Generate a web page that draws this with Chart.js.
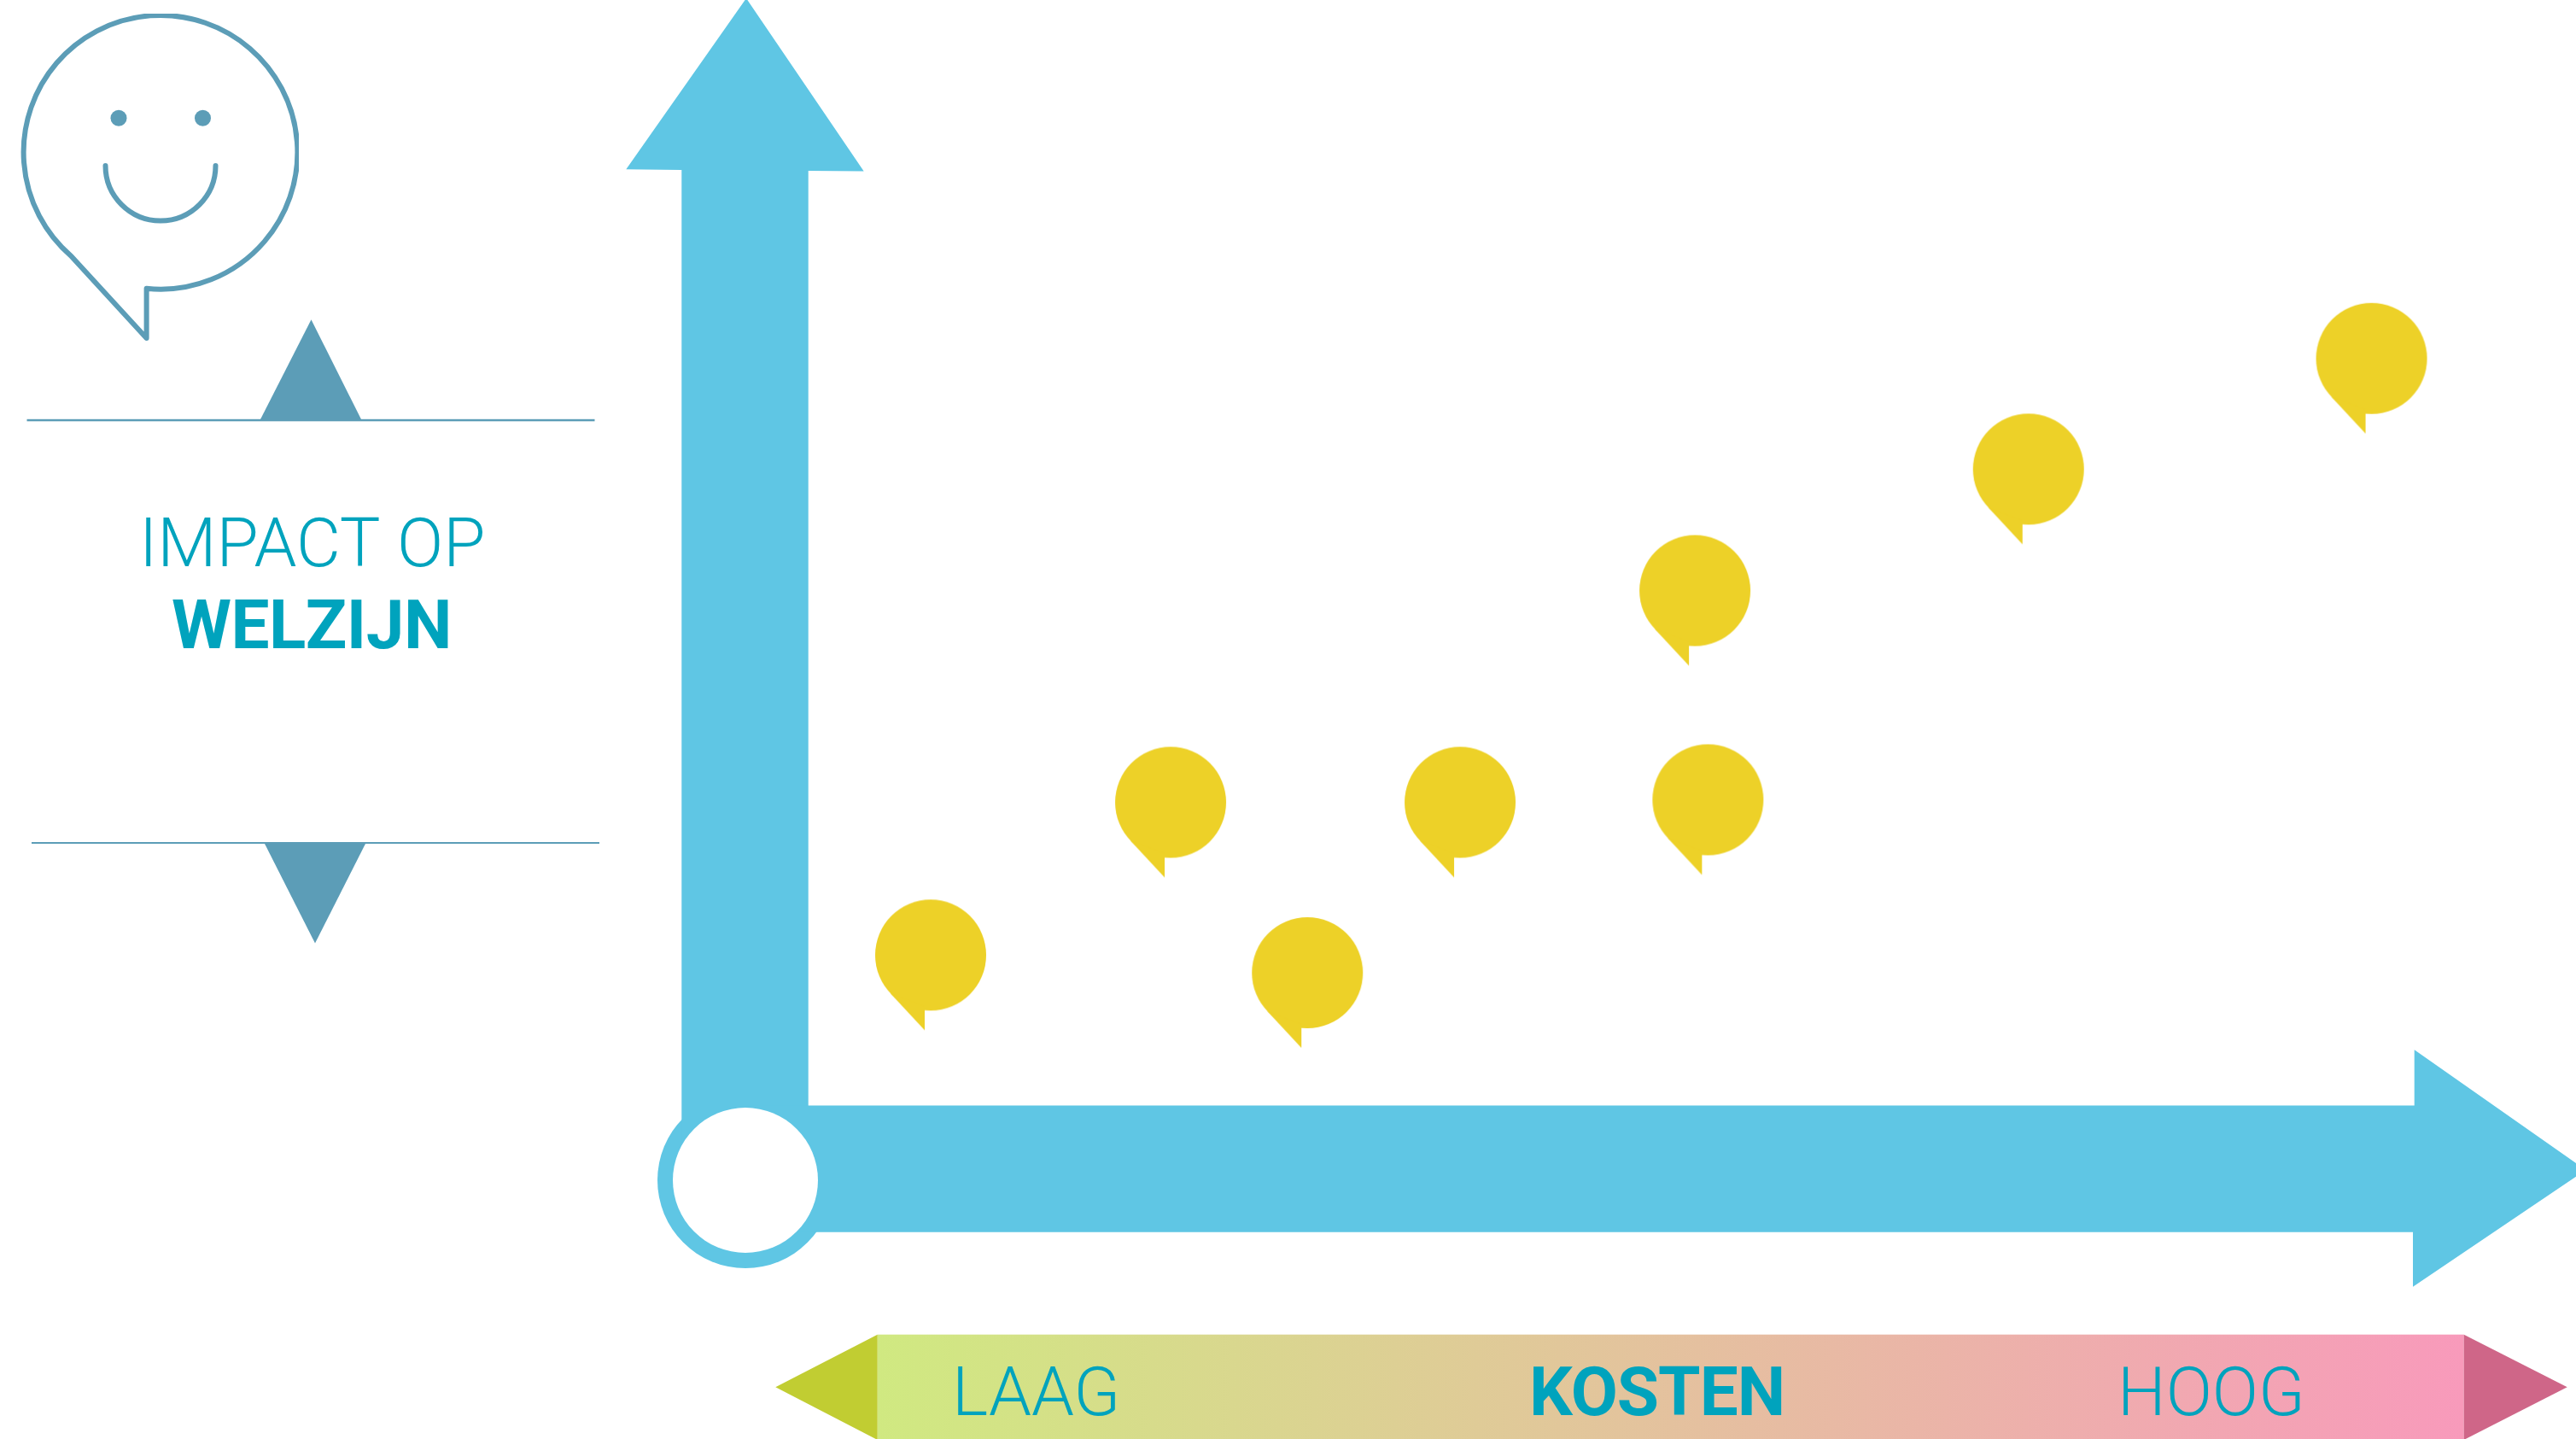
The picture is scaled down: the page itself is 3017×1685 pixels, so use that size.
<!DOCTYPE html>
<html>
<head>
<meta charset="utf-8">
<title>Impact op welzijn en kosten</title>
<script src="https://cdn.jsdelivr.net/npm/chart.js@4/dist/chart.umd.min.js"></script>
<style>
  html, body { margin: 0; padding: 0; background: #fff; overflow: hidden; }
  canvas { display: block; }
</style>
</head>
<body>
<canvas id="chart" width="3017" height="1685"></canvas>
<script>
// one pin per measure (both axes as 0-100 from the origin circle)
const kosten  = [10.12, 23.23, 30.70, 39.04, 52.58, 51.87, 70.09, 88.83];
const welzijn = [19.08, 32.02, 17.58, 32.02, 32.24, 49.96, 60.25, 69.63];

const yLabelTop = 'IMPACT OP';
const yLabelMain = 'WELZIJN';
const xLabelLow = 'LAAG';
const xLabelMain = 'KOSTEN';
const xLabelHigh = 'HOOG';

const BLUE = '#5fc6e4';
const YELLOW = '#edd128';
const STEEL = '#5c9db7';
const TEAL = '#00a3bd';

// speech bubble pin, centre of the sprite = centre of the circle
function makePin() {
  const c = document.createElement('canvas');
  c.width = 200;
  c.height = 200;
  const g = c.getContext('2d');
  g.translate(100, 100);
  g.fillStyle = YELLOW;
  g.beginPath();
  g.arc(0, 0, 65, 0, Math.PI * 2);
  g.fill();
  g.beginPath();
  g.moveTo(-47, 45);
  g.lineTo(-7, 88);
  g.lineTo(-7, 60);
  g.closePath();
  g.fill();
  return c;
}

function poly(ctx, pts, fill) {
  ctx.fillStyle = fill;
  ctx.beginPath();
  pts.forEach((p, i) => i ? ctx.lineTo(p[0], p[1]) : ctx.moveTo(p[0], p[1]));
  ctx.closePath();
  ctx.fill();
}

function label(ctx, text, x, y, weight, spacing) {
  ctx.font = weight + ' 80px Roboto';
  ctx.letterSpacing = (spacing || 0) + 'px';
  ctx.fillStyle = TEAL;
  ctx.textAlign = 'left';
  ctx.textBaseline = 'alphabetic';
  ctx.fillText(text, x, y);
  ctx.letterSpacing = '0px';
}

function drawAxes(ctx, chart) {
  const ox = chart.scales.x.getPixelForValue(0);
  const oy = chart.scales.y.getPixelForValue(0);

  ctx.fillStyle = BLUE;
  ctx.beginPath();
  ctx.arc(ox, oy, 103, 0, Math.PI * 2);
  ctx.fill();

  // vertical arrow
  poly(ctx, [[798.3, oy], [798.3, 199], [733.3, 198.3], [874, -2], [1011.7, 200.5], [946.7, 200], [946.7, oy]], BLUE);
  // horizontal arrow, the tip runs off the page
  poly(ctx, [[ox, 1294.5], [2827.7, 1294.5], [2827.7, 1229.3], [3017, 1362], [3017, 1377.7], [2826, 1506.7], [2826, 1442.7], [ox, 1442.7]], BLUE);

  ctx.fillStyle = '#fff';
  ctx.beginPath();
  ctx.arc(ox, oy, 85, 0, Math.PI * 2);
  ctx.fill();
}

function drawCostBand(ctx) {
  const grad = ctx.createLinearGradient(1027.7, 0, 2885.7, 0);
  grad.addColorStop(0, '#d0e981');
  grad.addColorStop(1, '#f89abb');
  ctx.fillStyle = grad;
  ctx.fillRect(1027.7, 1562.7, 1858, 123);
  poly(ctx, [[1027.7, 1562.7], [908.3, 1624.3], [1027.7, 1686]], '#c1cd32');
  poly(ctx, [[2885.7, 1562.7], [3006.7, 1624.3], [2885.7, 1686]], '#cf6688');

  label(ctx, xLabelLow, 1115, 1657, 300);
  label(ctx, xLabelMain, 1791, 1657, 700, -1);
  label(ctx, xLabelHigh, 2480, 1657, 300);
}

function drawFace(ctx) {
  ctx.save();
  ctx.beginPath();
  ctx.rect(0, 16, 350, 500);
  ctx.clip();
  ctx.strokeStyle = STEEL;
  ctx.lineWidth = 6;
  ctx.lineJoin = 'round';
  ctx.lineCap = 'round';
  ctx.beginPath();
  ctx.arc(188, 178.3, 160.4, Math.atan2(121, -104), Math.atan2(159.5, -16.4), false);
  ctx.lineTo(171.6, 396);
  ctx.closePath();
  ctx.stroke();
  ctx.beginPath();
  ctx.arc(188, 194, 64.5, Math.PI, 0, true);
  ctx.stroke();
  ctx.fillStyle = STEEL;
  [139, 237.5].forEach(x => {
    ctx.beginPath();
    ctx.arc(x, 138.3, 9.5, 0, Math.PI * 2);
    ctx.fill();
  });
  ctx.restore();
}

function drawWelzijnPanel(ctx) {
  drawFace(ctx);
  ctx.fillStyle = STEEL;
  ctx.fillRect(31.5, 490.8, 665, 2.5);
  poly(ctx, [[304, 493], [364.5, 374.3], [424, 493]], STEEL);
  ctx.fillRect(37, 986, 665, 2);
  poly(ctx, [[309, 986], [429, 986], [369, 1104.4]], STEEL);

  label(ctx, yLabelTop, 163, 663, 300);
  label(ctx, yLabelMain, 201, 759, 700, -0.5);
}

const backdrop = {
  id: 'backdrop',
  beforeDatasetsDraw(chart) {
    const ctx = chart.ctx;
    ctx.save();
    drawAxes(ctx, chart);
    drawCostBand(ctx);
    drawWelzijnPanel(ctx);
    ctx.restore();
  }
};

new Chart(document.getElementById('chart'), {
  type: 'scatter',
  data: {
    datasets: [{
      data: kosten.map((k, i) => ({ x: k, y: welzijn[i] })),
      pointStyle: makePin(),
      pointRadius: 65,
      clip: false
    }]
  },
  options: {
    responsive: false,
    animation: false,
    layout: { autoPadding: false, padding: { left: 873, right: 0, top: 0, bottom: 303 } },
    scales: {
      x: { display: false, min: 0, max: 100 },
      y: { display: false, min: 0, max: 100 }
    },
    plugins: { legend: { display: false }, tooltip: { enabled: false } }
  },
  plugins: [backdrop]
});
</script>
</body>
</html>
